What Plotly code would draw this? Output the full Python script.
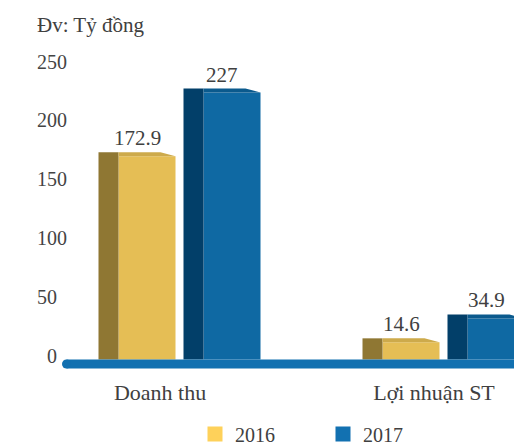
import plotly.graph_objects as go

# ---------------- data ----------------
categories = ["Doanh thu", "Lợi nhuận ST"]
series_names = ["2016", "2017"]
values_2016 = [172.9, 14.6]
values_2017 = [227, 34.9]
value_labels_2016 = ["172.9", "14.6"]
value_labels_2017 = ["227", "34.9"]
y_tick_values = [0, 50, 100, 150, 200, 250]
y_tick_labels = ["\u00a0\u00a00", "50", "100", "150", "200", "250"]
unit_label = "Đv: Tỷ đồng"

# ---------------- style / layout constants ----------------
W, H = 514, 446
FONT = "Liberation Serif"
TEXT = "#404040"
FRONT = {"2016": "#E5BE55", "2017": "#0F69A3"}
TOPC = {"2016": "#CDAA4B", "2017": "#0B5A8D"}
SIDE = {"2016": "#8F7733", "2017": "#023F69"}
LEGC = {"2016": "#FED15A", "2017": "#1271B1"}
BASE_COLOR = "#1170B0"

ML, MR, MT, MB = 34, 0, 40, 74
PLOT_W = W - ML - MR
PLOT_H = H - MT - MB
PXU = 264.0            # pixels per category step
C0 = 179.5             # pixel of first category centre
X0 = -(C0 - ML) / PXU
X1 = X0 + PLOT_W / PXU
ZERO_PX = 359.5        # pixel row of value 0
PXV = 294.0 / 250.0    # pixels per value unit
YMIN = -(MT + PLOT_H - ZERO_PX) / PXV
YMAX = (ZERO_PX - MT) / PXV

SIDE_PX, FRONT_PX, GAP_PX = 20, 57, 8
DEPTH_PX, INSET_PX = 4, 15
GROUP_PX = 2 * (SIDE_PX + FRONT_PX) + GAP_PX
LABEL_SHIFT_PX = [-19.5, -9.5]   # category label offset from group centre


def px(d):
    return d / PXU


depth = DEPTH_PX / PXV

fig = go.Figure()
shapes = []
annotations = []

for si, (name, vals, labs) in enumerate(
        [("2016", values_2016, value_labels_2016), ("2017", values_2017, value_labels_2017)]):
    start_off = px(-GROUP_PX / 2 + si * (SIDE_PX + FRONT_PX + GAP_PX))
    front_off = start_off + px(SIDE_PX)
    xs = list(range(len(categories)))
    fig.add_trace(go.Bar(
        x=xs, y=vals, width=px(FRONT_PX), offset=front_off,
        marker=dict(color=FRONT[name], line=dict(width=0)),
        name=name, showlegend=False, hoverinfo="skip"))
    for ci, v in enumerate(vals):
        xs0 = ci + start_off
        xf0 = ci + front_off
        xf1 = xf0 + px(FRONT_PX)
        # side face
        shapes.append(dict(type="path", xref="x", yref="y",
                           path=f"M{xs0},0 L{xs0},{v + depth} L{xf0},{v + depth} L{xf0},0 Z",
                           fillcolor=SIDE[name], line=dict(width=0), layer="above"))
        # top face
        shapes.append(dict(type="path", xref="x", yref="y",
                           path=f"M{xf0},{v + depth} L{xf1 - px(INSET_PX)},{v + depth} L{xf1},{v} L{xf0},{v} Z",
                           fillcolor=TOPC[name], line=dict(width=0), layer="above"))
        annotations.append(dict(x=(xs0 + xf1) / 2, y=v + depth, xref="x", yref="y",
                                text=labs[ci], showarrow=False, yanchor="bottom", yshift=0,
                                font=dict(family=FONT, size=21, color=TEXT)))
    # legend entry
    fig.add_trace(go.Scatter(x=[None], y=[None], mode="markers", name=name,
                             marker=dict(symbol="square", size=15, color=LEGC[name])))

# baseline with rounded left end
base_left = px(66.5 - C0)
shapes.append(dict(type="rect", xref="x", yref="y", x0=base_left, x1=X1 + 1,
                   ysizemode="pixel", yanchor=0, y0=-9, y1=0,
                   fillcolor=BASE_COLOR, line=dict(width=0), layer="above"))
shapes.append(dict(type="circle", xref="x", yref="y", xsizemode="pixel", ysizemode="pixel",
                   xanchor=base_left, yanchor=0, x0=-4.5, x1=4.5, y0=-9, y1=0,
                   fillcolor=BASE_COLOR, line=dict(width=0), layer="above"))

tick_pos = [i + px(s) for i, s in enumerate(LABEL_SHIFT_PX)]

fig.update_layout(
    width=W, height=H,
    margin=dict(l=ML, r=MR, t=MT, b=MB, pad=0),
    paper_bgcolor="white", plot_bgcolor="white",
    font=dict(family=FONT, size=20, color=TEXT),
    barmode="overlay",
    title=dict(text=unit_label, xref="container", yref="container",
               x=37 / W, xanchor="left", y=1 - 25 / H, yanchor="middle",
               font=dict(family=FONT, size=21, color=TEXT)),
    xaxis=dict(range=[X0, X1], tickvals=tick_pos, ticktext=categories,
               tickfont=dict(family=FONT, size=22, color=TEXT),
               showgrid=False, zeroline=False, showline=False, ticks="",
               ticklabelstandoff=5, fixedrange=True),
    yaxis=dict(range=[YMIN, YMAX], tickvals=y_tick_values, ticktext=y_tick_labels,
               showgrid=False, zeroline=False, showline=False, ticks="",
               ticklabelposition="inside", ticklabeloverflow="allow",
               ticklabelshift=-4, fixedrange=True),
    shapes=shapes,
    annotations=annotations,
    showlegend=True,
    legend=dict(orientation="h", xref="container", yref="container",
                x=195 / W, xanchor="left", y=1 - 434 / H, yanchor="middle",
                font=dict(family=FONT, size=20, color=TEXT),
                entrywidth=83, entrywidthmode="pixels", itemwidth=30),
)

fig.write_html("out.html", config={"displayModeBar": False},
               post_script="document.body.style.margin='0';document.body.style.overflow='hidden';")
